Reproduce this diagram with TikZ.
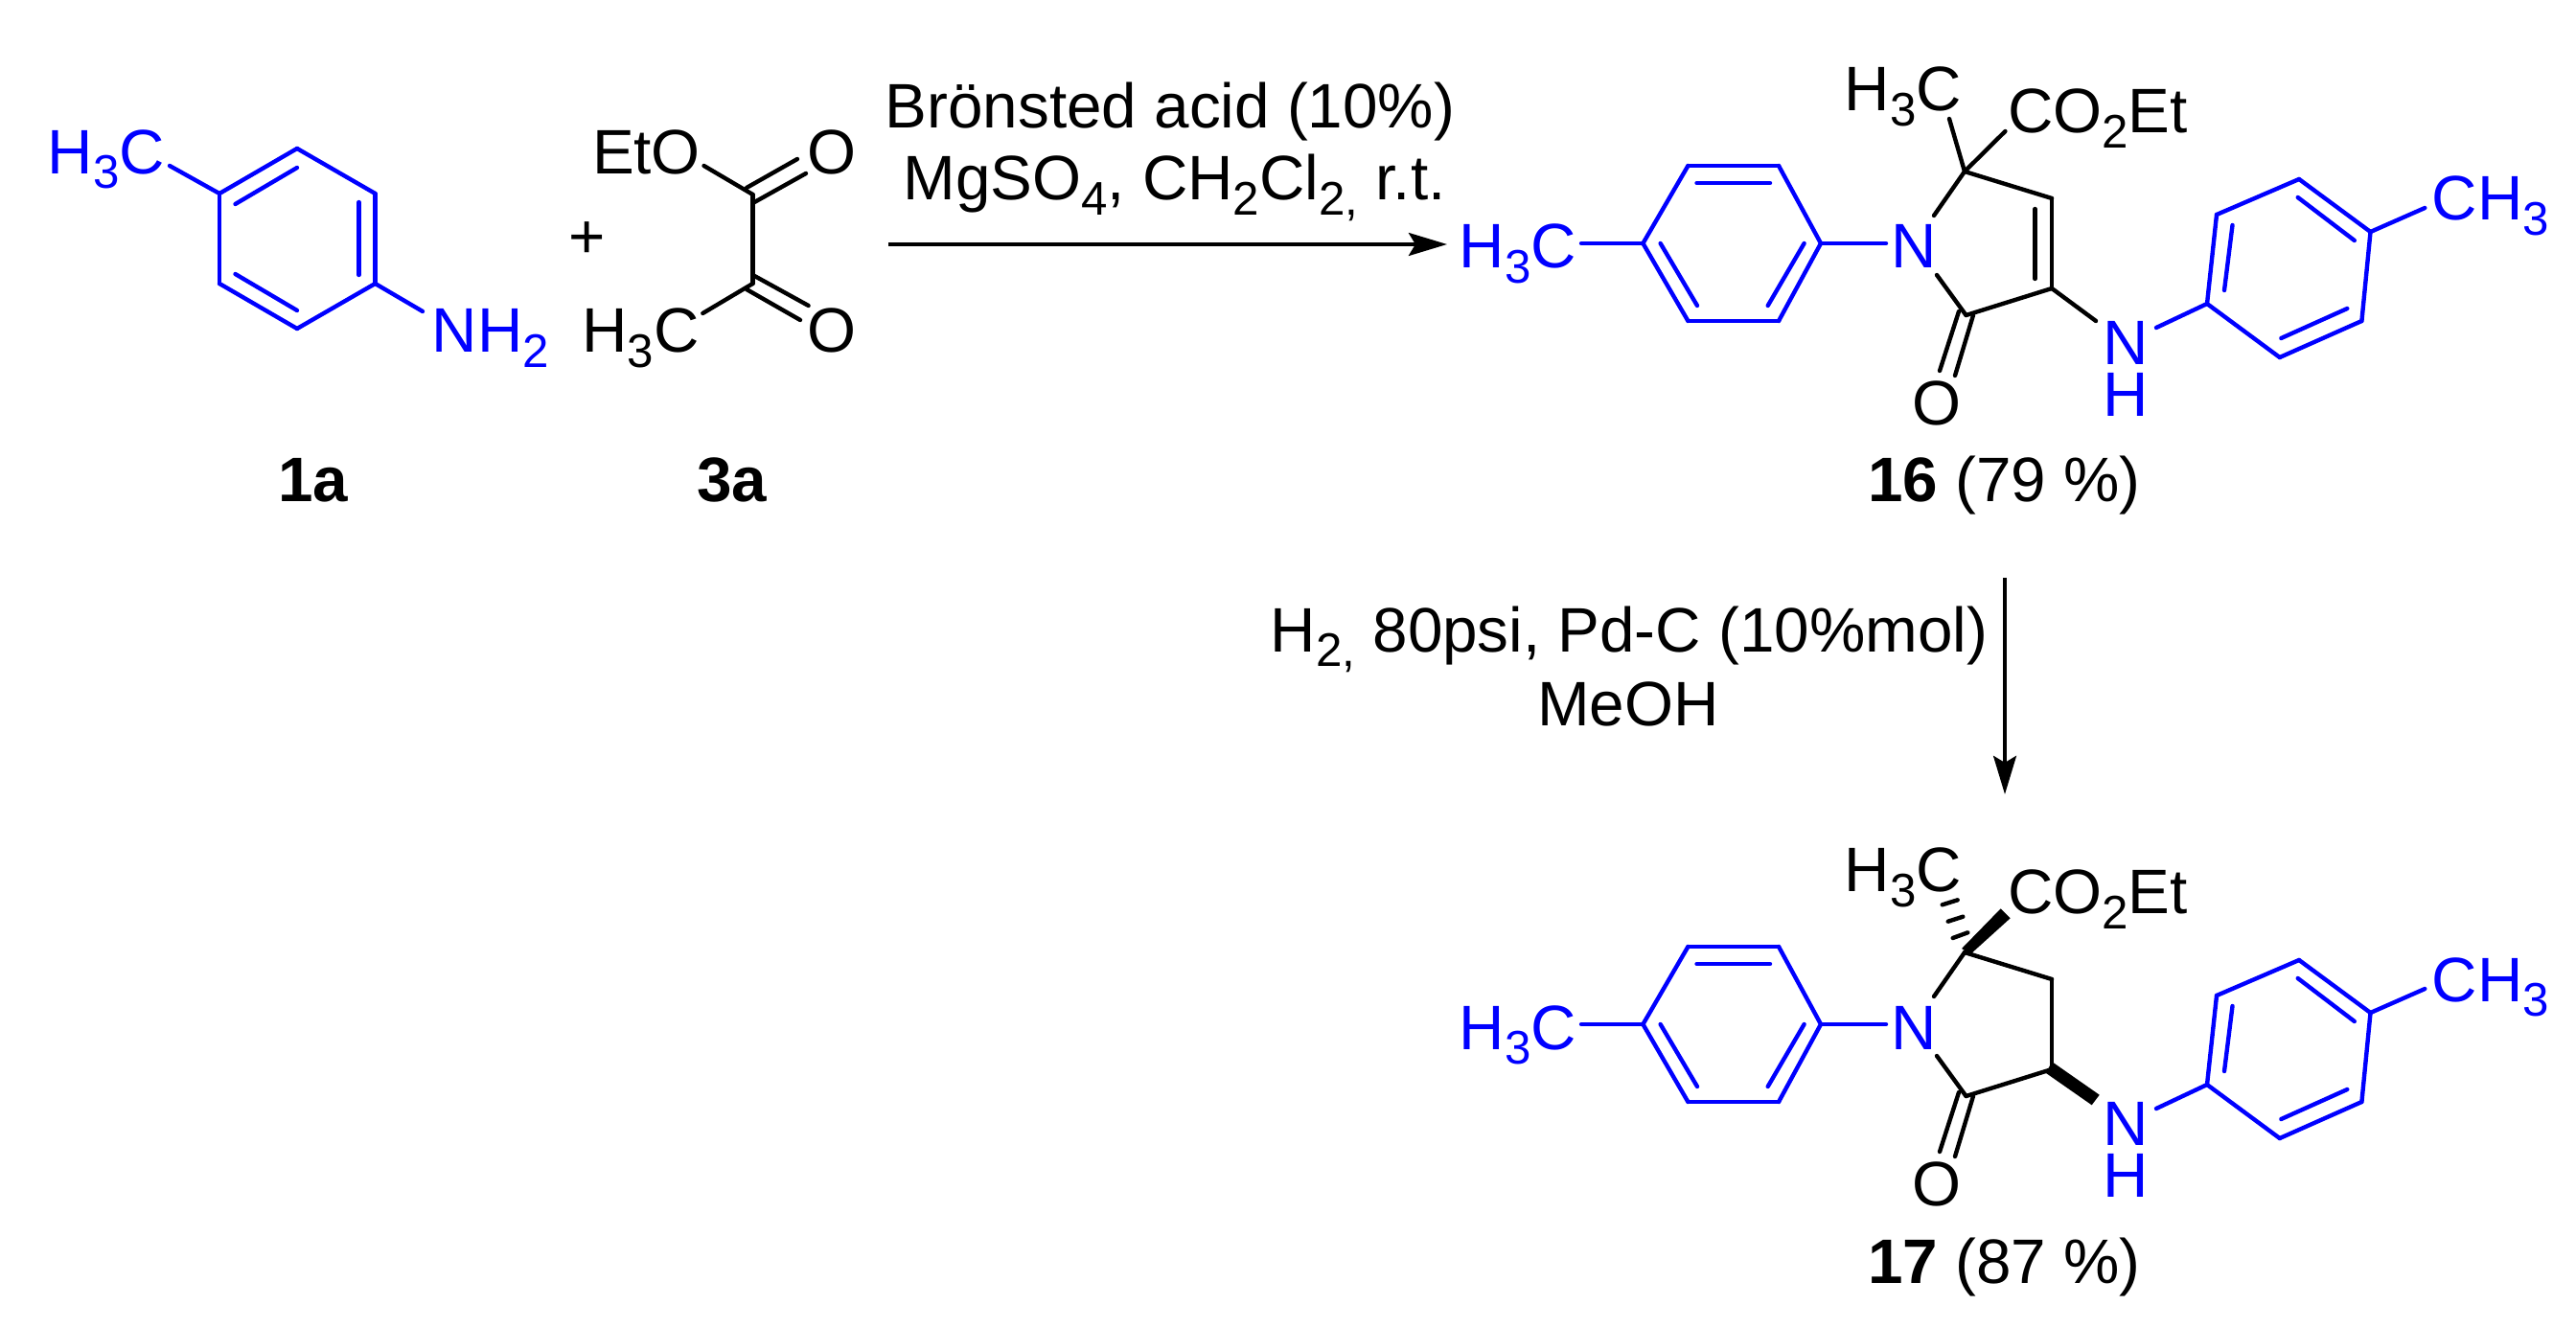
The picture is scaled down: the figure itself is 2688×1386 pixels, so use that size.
\documentclass[tikz,border=0pt]{standalone}
\usepackage{fontspec}
\setmainfont{Liberation Sans}
\usetikzlibrary{arrows.meta}
\newcommand*{\atomsub}[1]{\raisebox{-4.3pt}{\fontsize{14}{14}\selectfont #1}}

\begin{document}
\begin{tikzpicture}[x=0.01cm,y=-0.01cm,
		bond/.style={line width=1.25pt,line cap=round},
		blue bond/.style={bond,draw=chemblue},
		atom/.style={inner sep=0pt,anchor=base,font=\fontsize{18.65}{22}\selectfont},
		blue atom/.style={atom,text=chemblue},
		rxn/.style={line width=1.1pt,-{Stealth[length=11.4pt,width=6.8pt,inset=2pt]}}]
	\definecolor{chemblue}{RGB}{0,0,255}
	\useasboundingbox (0,0) rectangle (2688,1386);
	% aniline 1a
	\foreach \n/\x/\y in {a1/310/155,a2/391.5/202,a3/391.5/296,a4/310/343,a5/229/296,a6/229/202,
			ma/177/173,na/441/325,
			i1/245.5/213,i2/310/175,i3/374.5/211,i4/374.5/287,i5/245.5/286,i6/310/324}
		\coordinate (\n) at (\x,\y);
	\foreach \a/\b in {a1/a2,a2/a3,a3/a4,a4/a5,a5/a6,a6/a1,a6/ma,a3/na,i1/i2,i3/i4,i5/i6}
		\draw[blue bond] (\a) -- (\b);
	\node[blue atom] (toluidinec) at (110.7,181.7) {H\atomsub{3}C};
	\node[blue atom] (toluidinen) at (512,368) {NH\atomsub{2}};
	\node[atom] (plus) at (613,270) {+};
	% pyruvate 3a
	\foreach \n/\x/\y in {p1/785.5/203,p2/785.5/296,po/734.5/173,pm/733.3/327,
			d1/779/196,d2/832/166,d3/785.5/212,d4/841/181,d5/785.5/287,d6/843.6/319,d7/779/302,d8/835/334}
		\coordinate (\n) at (\x,\y);
	\foreach \a/\b in {p1/p2,p1/po,p2/pm,d1/d2,d3/d4,d5/d6,d7/d8}
		\draw[bond] (\a) -- (\b);
	\node[atom] (eto) at (674.5,181.7) {EtO};
	\node[atom] (oa) at (868,181.7) {O};
	\node[atom] (pyrc) at (668.5,368) {H\atomsub{3}C};
	\node[atom] (ob) at (868,368) {O};
	\node[atom,font=\fontsize{18.65}{22}\selectfont\bfseries] (la) at (327,524) {1a};
	\node[atom,font=\fontsize{18.65}{22}\selectfont\bfseries] (lb) at (763.6,524) {3a};
	% reaction arrows
	\coordinate (ra) at (927,255);
	\coordinate (rb) at (1510,255);
	\draw[rxn] (ra) -- (rb);
	\node[atom] (cond1) at (1221,133.3) {Brönsted acid (10\%)};
	\node[atom] (cond2) at (1225.5,209) {MgSO\atomsub{4}, CH\atomsub{2}Cl\atomsub{2,} r.t.};
	\coordinate (rc) at (2092,603);
	\coordinate (rd) at (2092,829);
	\draw[rxn] (rc) -- (rd);
	\node[atom] (cond3) at (1700,680.7) {H\atomsub{2,} 80psi, Pd-C (10\%mol)};
	\node[atom] (cond4) at (1699,757.7) {MeOH};
	% products 16 and 17
	\foreach \S/\Y/\L in {e/0/{\textbf{16} (79 \%)},f/815/{\textbf{17} (87 \%)}}
		{
			\foreach \n/\x/\y in {t1/1714.4/254,t2/1761.4/173,t3/1856/173,t4/1900/254,t5/1856/335,t6/1761.4/335,
					tm/1650/254,tn/1968/254,j1/1770.5/191,j2/1847/191,j3/1732.6/254,j4/1771/319,j5/1882.6/254,j6/1844.7/319,
					c5/2050/179,c4/2141/207,c3/2141/301,c2/2051.5/329,nu/2018/225,nd/2021/287,
					o1/2044/325,o2/2024/387,o3/2059/329,o4/2040/392,
					hn/2250/342,u1/2303/317,u2/2313/224,u3/2399/187,u4/2473.5/242,u5/2464.4/335,u6/2378.8/373,um/2530.3/217,
					k1/2329.5/235,k2/2321/303,k3/2397.7/206,k4/2456.8/251,k5/2380.3/353,k6/2449.3/322}
				\coordinate (\n\S) at (\x,{\y+\Y});
			\foreach \a/\b in {t1/t2,t2/t3,t3/t4,t4/t5,t5/t6,t6/t1,t1/tm,t4/tn,j1/j2,j3/j4,j5/j6,
					u1/u2,u2/u3,u3/u4,u4/u5,u5/u6,u6/u1,u1/hn,u4/um,k1/k2,k3/k4,k5/k6}
				\draw[blue bond] (\a\S) -- (\b\S);
			\foreach \a/\b in {c5/nu,c5/c4,c4/c3,c3/c2,c2/nd,o1/o2,o3/o4}
				\draw[bond] (\a\S) -- (\b\S);
			\node[blue atom] (me\S) at (1584,{280+\Y}) {H\atomsub{3}C};
			\node[blue atom] (n\S) at (1997,{280+\Y}) {N};
			\node[blue atom,align=center,font=\fontsize{18.65}{15.4}\selectfont,anchor=north] (nh\S) at (2218,{335+\Y}) {N\\H};
			\node[blue atom] (ch\S) at (2599,{230+\Y}) {CH\atomsub{3}};
			\node[atom] (o\S) at (2021,{443.3+\Y}) {O};
			\node[atom] (hc\S) at (1986,{116+\Y}) {H\atomsub{3}C};
			\node[atom] (co\S) at (2189,{139+\Y}) {CO\atomsub{2}Et};
			\node[atom] (l\S) at (2091.5,{524+\Y}) {\L};
		}
	% 16 only
	\coordinate (mq) at (2034,124);
	\coordinate (cq) at (2092.4,137);
	\coordinate (nq) at (2187,335);
	\coordinate (db1) at (2123.5,218);
	\coordinate (db2) at (2123.5,291);
	\foreach \a/\b in {c5e/mq,c5e/cq,c3e/nq,db1/db2}
		\draw[bond] (\a) -- (\b);
	% 17 only
	\foreach \n/\x/\y in {w1/2047/990,w2/2087.7/948.3,w3/2097.7/958.3,w4/2056/996,
			w5/2141/1108,w6/2190.7/1142.7,w7/2182.7/1153.3,w8/2135/1120,
			s1/2026.7/944.3,s2/2042.7/939.3,s3/2032.7/961.7,s4/2048.3/956.7,s5/2037.7/979,s6/2053.3/973.3}
		\coordinate (\n) at (\x,\y);
	\fill (w1) -- (w2) -- (w3) -- (w4) -- cycle;
	\fill (w5) -- (w6) -- (w7) -- (w8) -- cycle;
	\foreach \a/\b in {s1/s2,s3/s4,s5/s6}
		\draw[bond] (\a) -- (\b);
\end{tikzpicture}
\end{document}
